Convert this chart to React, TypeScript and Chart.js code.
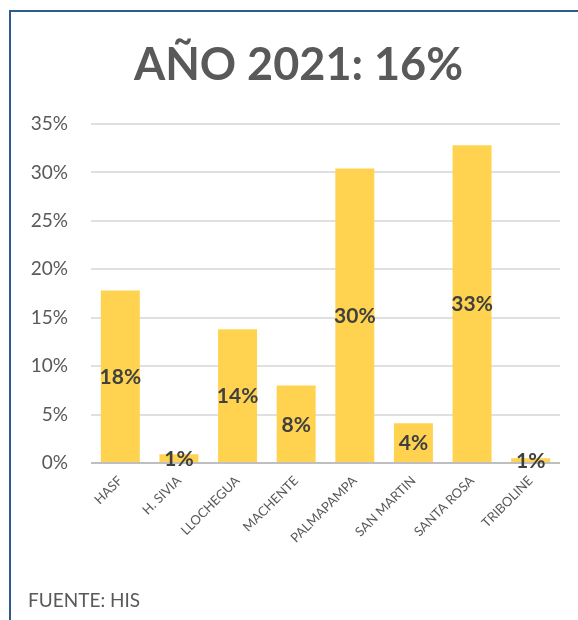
import React, { useEffect, useRef } from "react";
import { Chart, registerables } from "chart.js";

Chart.register(...registerables);

const categories = [
  "HASF",
  "H. SIVIA",
  "LLOCHEGUA",
  "MACHENTE",
  "PALMAPAMPA",
  "SAN MARTIN",
  "SANTA ROSA",
  "TRIBOLINE",
];
const values = [17.8, 0.9, 13.8, 8.0, 30.4, 4.1, 32.8, 0.5];
const yTickValues = [0, 5, 10, 15, 20, 25, 30, 35];
const titleText = "AÑO 2021: 16%";
const sourceText = "FUENTE: HIS";

const FONT = "Lato";
const TEXT_GRAY = "#595959";
const LABEL_DARK = "#404040";
const BAR_COLOR = "#FFD34F";
const FRAME_BLUE = "#2F5B8C";

const barLabelPlugin = {
  id: "barLabels",
  afterDatasetsDraw(chart: any) {
    const { ctx } = chart;
    const meta = chart.getDatasetMeta(0);
    ctx.save();
    ctx.font = `bold 21px ${FONT}`;
    ctx.fillStyle = LABEL_DARK;
    ctx.textAlign = "center";
    ctx.textBaseline = "middle";
    meta.data.forEach((el: any, i: number) => {
      const { x, y, base } = el.getProps(["x", "y", "base"], true);
      ctx.fillText(Math.round(values[i]) + "%", x, (y + base) / 2 + 1);
    });
    ctx.restore();
  },
};

export default function App() {
  const canvasRef = useRef<HTMLCanvasElement | null>(null);

  useEffect(() => {
    let chart: Chart | null = null;
    let cancelled = false;
    const build = () => {
      if (cancelled || !canvasRef.current) return;
      chart = new Chart(canvasRef.current, {
        type: "bar",
        data: {
          labels: categories,
          datasets: [
            {
              data: values,
              backgroundColor: BAR_COLOR,
              borderWidth: 0,
              categoryPercentage: 1,
              barPercentage: 0.665,
            },
          ],
        },
        options: {
          responsive: false,
          animation: false,
          layout: { padding: { top: 124, right: 18, left: 0, bottom: 0 } },
          plugins: {
            legend: { display: false },
            tooltip: { enabled: false },
            title: { display: false },
          },
          scales: {
            x: {
              grid: { display: false, drawTicks: false },
              border: { display: false },
              ticks: {
                color: TEXT_GRAY,
                font: { family: FONT, size: 13 },
                maxRotation: 45,
                minRotation: 45,
                padding: 10,
                autoSkip: false,
              },
              afterFit: (scale: any) => {
                scale.height = 157;
              },
            },
            y: {
              min: 0,
              max: 35,
              afterBuildTicks: (scale: any) => {
                scale.ticks = yTickValues.map((v) => ({ value: v }));
              },
              grid: {
                drawTicks: false,
                color: (c: any) => (c.tick && c.tick.value === 0 ? "#bfbfbf" : "#e0e0e0"),
                lineWidth: 2,
              },
              border: { display: false },
              ticks: {
                color: TEXT_GRAY,
                font: { family: FONT, size: 19 },
                padding: 23,
                callback: (v: any) => v + "%",
              },
              afterFit: (scale: any) => {
                scale.width = 91;
              },
            },
          },
        },
        plugins: [barLabelPlugin],
      });
    };
    const fontsReady = (document as any).fonts
      ? Promise.all([
          (document as any).fonts.load(`bold 21px ${FONT}`),
          (document as any).fonts.load(`19px ${FONT}`),
        ]).catch(() => null)
      : Promise.resolve(null);
    fontsReady.then(build);
    return () => {
      cancelled = true;
      if (chart) chart.destroy();
    };
  }, []);

  return (
    <div
      style={{
        position: "fixed",
        left: 0,
        top: 0,
        width: 578,
        height: 620,
        overflow: "hidden",
        background: "#ffffff",
      }}
    >
      <canvas
        ref={canvasRef}
        width={578}
        height={620}
        style={{ position: "absolute", left: 0, top: 0, width: 578, height: 620 }}
      />
      <div
        style={{
          position: "absolute",
          left: 9,
          top: 10,
          width: 700,
          height: 800,
          borderLeft: `2px solid ${FRAME_BLUE}`,
          borderTop: `2px solid ${FRAME_BLUE}`,
          boxSizing: "border-box",
          pointerEvents: "none",
        }}
      />
      <div
        style={{
          position: "absolute",
          left: 0,
          top: 35,
          width: 597,
          textAlign: "center",
          fontFamily: FONT,
          fontWeight: 700,
          fontSize: 45,
          lineHeight: "56px",
          color: TEXT_GRAY,
          whiteSpace: "nowrap",
        }}
      >
        {titleText}
      </div>
      <div
        style={{
          position: "absolute",
          left: 28,
          top: 590,
          fontFamily: FONT,
          fontSize: 19,
          lineHeight: "20px",
          color: TEXT_GRAY,
          whiteSpace: "nowrap",
        }}
      >
        {sourceText}
      </div>
    </div>
  );
}
